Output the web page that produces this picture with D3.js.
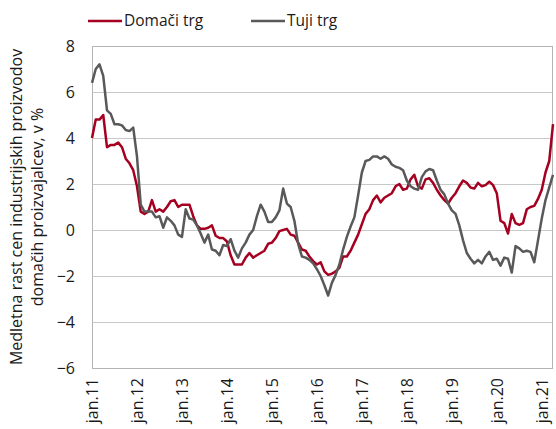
<!DOCTYPE html>
<html>
<head>
<meta charset="utf-8">
<script src="https://cdn.jsdelivr.net/npm/d3@7"></script>
<style>
    body { margin: 0; background: #fff; }
    text { font-family: "Open Sans", sans-serif; fill: #1a1a1a; }
</style>
</head>
<body>
<svg id="chart" width="556" height="429"></svg>
<script>
// monthly values, jan 2011 .. apr 2021
const domaci = [
    4.0, 4.8, 4.8, 5.0, 3.6, 3.7, 3.7, 3.8, 3.6, 3.1, 2.9, 2.6,
    1.9, 0.8, 0.7, 0.8, 1.3, 0.8, 0.9, 0.8, 1.0, 1.25, 1.3, 1.0,
    1.1, 1.1, 1.1, 0.6, 0.2, 0.05, 0.05, 0.1, 0.2, -0.25, -0.35, -0.35,
    -0.5, -1.1, -1.5, -1.5, -1.5, -1.2, -1.0, -1.2, -1.1, -1.0, -0.9, -0.6,
    -0.55, -0.35, -0.05, 0.0, 0.05, -0.2, -0.25, -0.55, -0.85, -0.9, -1.15, -1.35,
    -1.5, -1.4, -1.8, -1.95, -1.9, -1.8, -1.65, -1.15, -1.15, -0.9, -0.55, -0.2,
    0.25, 0.7, 0.9, 1.3, 1.5, 1.2, 1.4, 1.5, 1.6, 1.9, 2.0, 1.75,
    1.8, 2.2, 2.4, 1.9, 1.8, 2.2, 2.25, 2.05, 1.75, 1.5, 1.3, 1.15,
    1.4, 1.6, 1.9, 2.15, 2.05, 1.85, 1.8, 2.05, 1.9, 1.95, 2.1, 1.95,
    1.6, 0.4, 0.3, -0.15, 0.7, 0.3, 0.22, 0.3, 0.9, 1.0, 1.05, 1.35,
    1.75, 2.5, 3.0, 4.6
];
const tuji = [
    6.4, 7.0, 7.2, 6.7, 5.2, 5.05, 4.6, 4.6, 4.55, 4.35, 4.3, 4.45,
    3.2, 1.1, 0.8, 0.8, 0.8, 0.55, 0.6, 0.1, 0.55, 0.4, 0.2, -0.2,
    -0.3, 0.9, 0.5, 0.45, 0.2, -0.15, -0.55, -0.2, -0.85, -0.9, -1.1, -0.65,
    -0.7, -0.4, -0.9, -1.2, -0.8, -0.55, -0.2, 0.0, 0.6, 1.1, 0.8, 0.35,
    0.35, 0.55, 0.85, 1.8, 1.15, 1.0, 0.4, -0.6, -1.15, -1.2, -1.3, -1.45,
    -1.7, -2.0, -2.4, -2.85, -2.3, -1.95, -1.5, -0.85, -0.3, 0.15, 0.55, 1.5,
    2.5, 3.0, 3.05, 3.2, 3.2, 3.1, 3.2, 3.1, 2.85, 2.75, 2.7, 2.6,
    2.15, 1.9, 1.8, 1.75, 2.3, 2.55, 2.65, 2.6, 2.15, 1.75, 1.55, 1.15,
    0.85, 0.7, 0.2, -0.45, -1.0, -1.25, -1.45, -1.3, -1.45, -1.15, -0.95, -1.3,
    -1.25, -1.55, -1.2, -1.25, -1.85, -0.7, -0.8, -0.95, -0.9, -0.95, -1.4, -0.45,
    0.5, 1.3, 1.85, 2.4
];
const xTickLabels = ["jan.11", "jan.12", "jan.13", "jan.14", "jan.15", "jan.16",
                     "jan.17", "jan.18", "jan.19", "jan.20", "jan.21"];
const yTicks      = [-6, -4, -2, 0, 2, 4, 6, 8];
const seriesNames = ["Domači trg", "Tuji trg"];
const colors      = ["#a50021", "#595959"];

const svg = d3.select("#chart");

const margin = { top: 46, bottom: 61, left: 92, right: 3 };
const W = +svg.attr("width"), H = +svg.attr("height");

const x = d3.scaleLinear()
    .domain([0, domaci.length - 1])
    .range([margin.left, W - margin.right]);

const y = d3.scaleLinear()
    .domain([-6, 8])
    .range([H - margin.bottom, margin.top]);

// gridlines
svg.append("g")
    .selectAll("line").data(yTicks)
    .enter().append("line")
    .attr("x1", margin.left)
    .attr("x2", W - margin.right)
    .attr("y1", d => Math.round(y(d)) + 0.5)
    .attr("y2", d => Math.round(y(d)) + 0.5)
    .attr("stroke", "#c8c8c8")
    .attr("stroke-width", 1);

// plot border
svg.append("rect")
    .attr("x", margin.left + 0.5)
    .attr("y", Math.round(y(8)) + 0.5)
    .attr("width", W - margin.right - margin.left - 1)
    .attr("height", Math.round(y(-6)) - Math.round(y(8)))
    .attr("fill", "none")
    .attr("stroke", "#b4b4b4");

// y axis
const yAxis = svg.append("g")
    .attr("transform", `translate(${margin.left},0)`)
    .call(d3.axisLeft(y).tickValues(yTicks).tickSize(0).tickPadding(17));
yAxis.select(".domain").remove();
yAxis.selectAll("text")
    .style("font-size", "16px")
    .style("font-family", "Open Sans");

// x axis
const xAxis = svg.append("g")
    .attr("transform", `translate(0,${y(-6)})`)
    .call(d3.axisBottom(x)
        .tickValues(xTickLabels.map((d, i) => i * 12))
        .tickFormat((d, i) => xTickLabels[i])
        .tickSize(0));
xAxis.select(".domain").remove();
xAxis.selectAll("text")
    .style("font-size", "16px")
    .style("font-family", "Open Sans")
    .attr("text-anchor", "end")
    .attr("transform", "rotate(-90)")
    .attr("x", -10)
    .attr("y", 0)
    .attr("dy", "0.35em");

// y axis title
const title = svg.append("text")
    .attr("transform", `translate(0,${(y(8) + y(-6)) / 2}) rotate(-90)`)
    .attr("text-anchor", "middle")
    .style("font-size", "16px");
title.append("tspan").attr("x", 0).attr("y", 22).text("Medletna rast cen industrijskih proizvodov");
title.append("tspan").attr("x", 0).attr("y", 43).text("domačih proizvajalcev, v %");

// lines
const line = d3.line()
    .x((d, i) => x(i))
    .y(d => y(d));

[domaci, tuji].forEach((s, k) => {
    svg.append("path")
        .datum(s)
        .attr("fill", "none")
        .attr("stroke", colors[k])
        .attr("stroke-width", 2.5)
        .attr("stroke-linejoin", "round")
        .attr("d", line);
});

// legend
const legendX = [88, 251];
const legend = svg.append("g");
seriesNames.forEach((name, k) => {
    legend.append("line")
        .attr("x1", legendX[k]).attr("x2", legendX[k] + 34)
        .attr("y1", 21).attr("y2", 21)
        .attr("stroke", colors[k])
        .attr("stroke-width", 2.5);
    legend.append("text")
        .attr("x", legendX[k] + 36)
        .attr("y", 21)
        .attr("dy", "0.35em")
        .style("font-size", "15.5px")
        .text(name);
});
</script>
</body>
</html>
